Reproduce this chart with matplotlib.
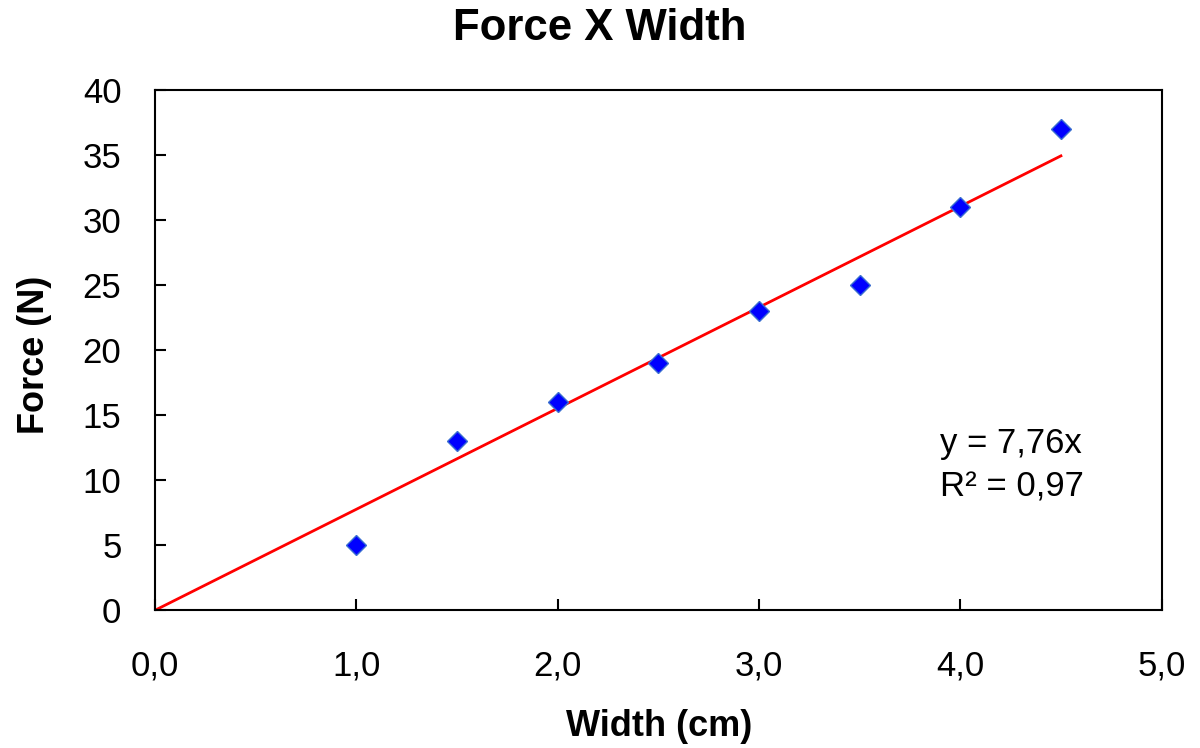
import numpy as np
import matplotlib.pyplot as plt
from matplotlib.ticker import FuncFormatter

plt.rcParams['font.family'] = ['Liberation Sans', 'DejaVu Sans']

# data
width_cm = [1.0, 1.5, 2.0, 2.5, 3.0, 3.5, 4.0, 4.5]
force_n = [5, 13, 16, 19, 23, 25, 31, 37]
slope = 7.76
r2_text = "0,97"

fig = plt.figure(figsize=(12, 7.48), dpi=100)
ax = fig.add_axes([0.129, 0.184, 0.839, 0.696])

# trend line through origin
fit_x = np.array([0.0, max(width_cm)])
ax.plot(fit_x, slope * fit_x, color='red', lw=2, zorder=2)

ax.plot(width_cm, force_n, linestyle='none', marker='D', markersize=10,
        markerfacecolor='#0000ff', markeredgecolor='#3a6fd0', markeredgewidth=1,
        zorder=3)

ax.set_xlim(0, 5)
ax.set_ylim(0, 40)
ax.set_xticks(np.arange(0, 5.01, 1.0))
ax.set_yticks(np.arange(0, 41, 5))
ax.xaxis.set_major_formatter(FuncFormatter(lambda v, p: f"{v:.1f}".replace('.', ',')))
ax.tick_params(direction='in', length=8, width=1.5, labelsize=25)
ax.tick_params(axis='y', pad=24)
ax.tick_params(axis='x', pad=28)
for s in ax.spines.values():
    s.set_linewidth(1.5)

fig.text(0.5, 1 - 28 / 748, 'Force X Width', fontsize=31.5, fontweight='bold',
         ha='center', va='center')
fig.text(0.549, 1 - 727 / 748, 'Width (cm)', fontsize=26, fontweight='bold',
         ha='center', va='center')
fig.text(35 / 1200, 1 - 355 / 748, 'Force (N)', fontsize=26, fontweight='bold',
         ha='center', va='center', rotation=90)

ax.text(3.9, 12.85, f"y = {slope:.2f}x".replace('.', ','), fontsize=25, va='center')
ax.text(3.9, 9.45, f"R² = {r2_text}", fontsize=25, va='center')

fig.savefig('out.png', dpi=100)
